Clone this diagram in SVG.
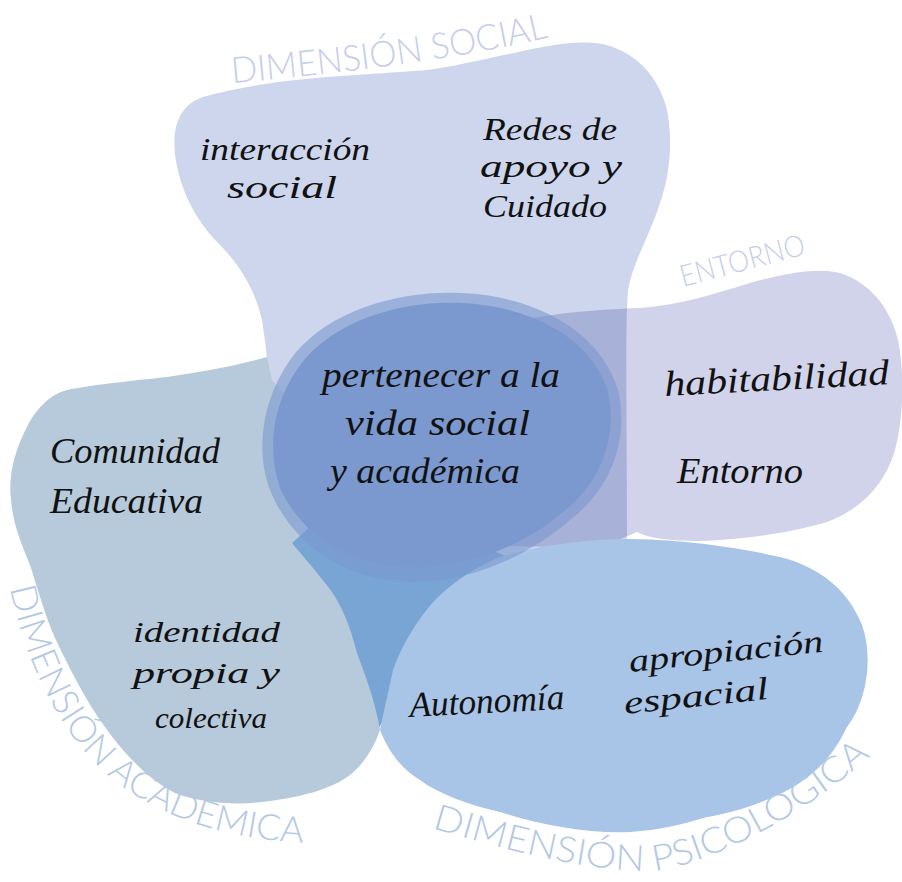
<svg xmlns="http://www.w3.org/2000/svg" width="902" height="882" viewBox="0 0 902 882">
<defs>
<style>
.hand{font-family:"Liberation Serif","DejaVu Serif",serif;font-style:italic;font-size:36px;fill:#111;}
.tight{font-size:32px;}
.tighter{font-size:30px;}
.lbl{font-family:"Lato","Liberation Sans",sans-serif;font-weight:300;font-size:36px;}
.lblTop{fill:#c5cdea;}
.lblBot{fill:#b3c8e5;}
</style>
<path id="pSocialBlob" d="M203,97 C240,86 290,80 327,77 C370,74 400,72 427,70 C460,66 510,53 543,47 C565,43 590,40 610,46 C640,56 660,80 667,110 C673,140 670,175 660,203 C650,235 633,262 628,290 C625,330 627,420 627,545 L560,558 L440,555 L330,490 L280,430 L271,410 C269,380 267,350 262,320 C255,290 240,265 220,245 C195,220 180,190 175,155 C172,125 180,105 203,97 Z"/>
<path id="pEntornoBlob" d="M470,335 C530,312 600,310 640,308 C680,305 710,295 750,283 C780,275 810,268 835,272 C865,278 890,305 898,340 C905,375 903,420 895,450 C885,485 860,510 827,522 C790,533 740,540 700,541 C670,541 648,538 637,532 L600,548 L470,545 Z"/>
<clipPath id="clipSocial"><use href="#pSocialBlob"/></clipPath>
<path id="tpSocial" d="M232,83 Q430,66 555,36"/>
<path id="tpEntorno" d="M683,287 L815,252"/>
<path id="tpAcad" d="M10,588 C25,660 60,740 120,785 C170,820 230,840 310,843"/>
<path id="tpPsic" d="M432,828 C500,848 580,871 650,871 C700,869 810,815 882,745"/>
</defs>

<g id="blob-social">
<use href="#pSocialBlob" fill="#cdd6ec"/>
</g>
<g id="blob-entorno">
<use href="#pEntornoBlob" fill="#d0d3e9"/>
<use href="#pEntornoBlob" fill="#a8b2d9" clip-path="url(#clipSocial)"/>
</g>
<g id="region-core-tail">
<path d="M285,545 L330,500 L470,540 L505,556 L470,600 L420,650 L379,728 L360,670 L330,600 Z" fill="#79a5d5"/>
</g>
<g id="blob-academica">
<path d="M267,357 C235,366 200,372 167,377 C140,380 90,385 67,390 C50,394 35,410 27,427 C15,450 8,475 11,500 C13,525 22,545 30,565 C38,590 45,615 55,638 C68,665 85,700 105,727 C120,748 145,778 175,793 C200,803 240,806 270,801 C300,797 330,790 350,775 C365,763 375,745 380,730 C375,700 365,675 357,653 C350,625 340,600 325,583 C312,566 300,553 292,543 L340,500 L310,420 L272,380 Z" fill="#b7cadb"/>
</g>
<g id="blob-psicologica">
<path d="M500,557 C545,544 590,539 630,539 C690,540 740,548 780,557 C820,567 848,590 862,625 C873,655 868,700 847,727 C835,752 815,780 773,797 C750,808 720,815 707,817 C680,825 660,830 630,832 C590,834 540,825 500,812 C470,805 440,795 420,780 C400,768 388,750 380,730 C385,705 390,685 393,670 C402,645 413,628 425,612 C440,592 465,572 500,557 Z" fill="#a8c4e7"/>
</g>
<g id="center">
<path d="M440,293 C530,290 600,330 618,390 C630,440 610,490 570,520 C530,555 470,583 410,582 C340,580 290,540 270,490 C255,450 262,400 290,360 C320,318 380,295 440,293 Z" fill="#7b98cf" fill-opacity="0.6"/>
<path d="M440,303 C525,300 592,337 608,392 C618,438 600,484 563,512 C525,545 468,568 410,567 C345,566 300,532 280,488 C267,450 272,405 298,368 C326,328 383,305 440,303 Z" fill="#7b98cf"/>
<text class="hand" x="322" y="387" textLength="238" lengthAdjust="spacingAndGlyphs">pertenecer a la</text>
<text class="hand" x="345" y="435" textLength="185" lengthAdjust="spacingAndGlyphs">vida social</text>
<text class="hand" x="330" y="483" textLength="190" lengthAdjust="spacingAndGlyphs">y académica</text>
</g>

<g id="texts-social">
<text class="hand tight" x="200" y="160" textLength="170" lengthAdjust="spacingAndGlyphs">interacción</text>
<text class="hand tight" x="227" y="198" textLength="110" lengthAdjust="spacingAndGlyphs">social</text>
<text class="hand tight" x="483" y="140" textLength="134" lengthAdjust="spacingAndGlyphs">Redes de</text>
<text class="hand tight" x="480" y="177" textLength="142" lengthAdjust="spacingAndGlyphs">apoyo y</text>
<text class="hand tight" x="483" y="217" textLength="124" lengthAdjust="spacingAndGlyphs">Cuidado</text>
</g>
<g id="texts-entorno">
<text class="hand" x="665" y="396" textLength="225" lengthAdjust="spacingAndGlyphs" transform="rotate(-3 665 396)">habitabilidad</text>
<text class="hand" x="677" y="483" textLength="126" lengthAdjust="spacingAndGlyphs">Entorno</text>
</g>
<g id="texts-academica">
<text class="hand" x="50" y="463" textLength="170" lengthAdjust="spacingAndGlyphs">Comunidad</text>
<text class="hand" x="50" y="513" textLength="153" lengthAdjust="spacingAndGlyphs">Educativa</text>
<text class="hand tighter" x="133" y="642" textLength="147" lengthAdjust="spacingAndGlyphs">identidad</text>
<text class="hand tighter" x="133" y="683" textLength="147" lengthAdjust="spacingAndGlyphs">propia y</text>
<text class="hand tighter" x="155" y="728" textLength="112" lengthAdjust="spacingAndGlyphs">colectiva</text>
</g>
<g id="texts-psicologica">
<text class="hand" x="410" y="717" textLength="155" lengthAdjust="spacingAndGlyphs" transform="rotate(-3 410 717)">Autonomía</text>
<text class="hand tight" x="630" y="672" textLength="195" lengthAdjust="spacingAndGlyphs" transform="rotate(-6 630 672)">apropiación</text>
<text class="hand tight" x="625" y="714" textLength="145" lengthAdjust="spacingAndGlyphs" transform="rotate(-6 625 714)">espacial</text>
</g>

<g id="labels">
<text class="lbl lblTop"><textPath href="#tpSocial" textLength="320" lengthAdjust="spacingAndGlyphs">DIMENSIÓN SOCIAL</textPath></text>
<text class="lbl lblTop" style="font-size:30px"><textPath href="#tpEntorno" textLength="128" lengthAdjust="spacingAndGlyphs">ENTORNO</textPath></text>
<text class="lbl lblBot"><textPath href="#tpAcad" textLength="425" lengthAdjust="spacingAndGlyphs">DIMENSIÓN ACADÉMICA</textPath></text>
<text class="lbl lblBot"><textPath href="#tpPsic" textLength="475" lengthAdjust="spacingAndGlyphs">DIMENSIÓN PSICOLOGICA</textPath></text>
</g>
</svg>
